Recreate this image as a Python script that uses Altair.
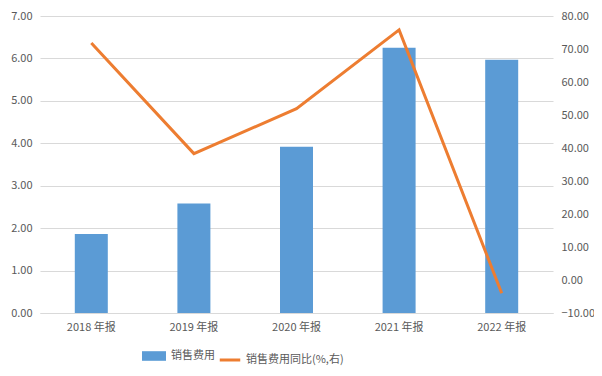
import altair as alt
import pandas as pd

years = ["2018 年报", "2019 年报", "2020 年报", "2021 年报", "2022 年报"]
expense = [1.86, 2.58, 3.92, 6.25, 5.97]
yoy = [71.8, 38.3, 51.9, 75.8, -4.0]

df = pd.DataFrame({"year": years, "expense": expense, "yoy": yoy,
                   "s1": "销售费用", "s2": "销售费用同比(%,右)"})

font = "Noto Sans CJK SC"
lab = "#595959"

x = alt.X("year:N", sort=years, title=None,
          scale=alt.Scale(paddingInner=0, paddingOuter=0),
          axis=alt.Axis(labelAngle=0, labelColor=lab, labelFont=font, labelFontSize=11,
                        domainColor="#d9d9d9", ticks=False, labelPadding=8))

bars = alt.Chart(df).mark_bar(size=33, color="#5B9BD5").encode(
    x=x,
    y=alt.Y("expense:Q", title=None,
            scale=alt.Scale(domain=[0, 7], nice=False),
            axis=alt.Axis(values=[0, 1, 2, 3, 4, 5, 6, 7], format=".2f", labelColor=lab,
                          labelFont=font, labelFontSize=11, domain=False, ticks=False,
                          gridColor="#d9d9d9", labelPadding=8)),
    fill=alt.Fill("s1:N", scale=alt.Scale(range=["#5B9BD5"]),
                  legend=alt.Legend(title=None, orient="none", legendX=106, legendY=332,
                                    symbolType="M-1.5,-0.6H1.5V0.6H-1.5Z", labelOffset=9,
                                    symbolSize=256, labelFont=font, labelFontSize=11, labelColor=lab,
                                    symbolStrokeWidth=0)),
)

line = alt.Chart(df).mark_line(color="#ED7D31", strokeWidth=3).encode(
    x=x,
    y=alt.Y("yoy:Q", title=None,
            scale=alt.Scale(domain=[-10, 80], nice=False),
            axis=alt.Axis(orient="right", values=list(range(-10, 81, 10)), format=".2f",
                          labelColor=lab, labelFont=font, labelFontSize=11, domain=False,
                          ticks=False, grid=False, labelPadding=8)),
    stroke=alt.Stroke("s2:N", scale=alt.Scale(range=["#ED7D31"]),
                      legend=alt.Legend(title=None, orient="none", legendX=178, legendY=332,
                                        symbolType="stroke",
                                        symbolSize=420, symbolStrokeWidth=3,
                                        labelFont=font, labelFontSize=11, labelColor=lab)),
)

chart = alt.layer(bars, line).resolve_scale(y="independent", fill="independent", stroke="independent").properties(
    width=513, height=297, autosize=alt.AutoSizeParams(type="none"),
    padding={"left": 32, "top": 8, "right": 41, "bottom": 55}
).configure_view(stroke=None).configure_legend(direction="horizontal")

chart.save("out.html", embed_options={"renderer": "svg", "actions": False})
